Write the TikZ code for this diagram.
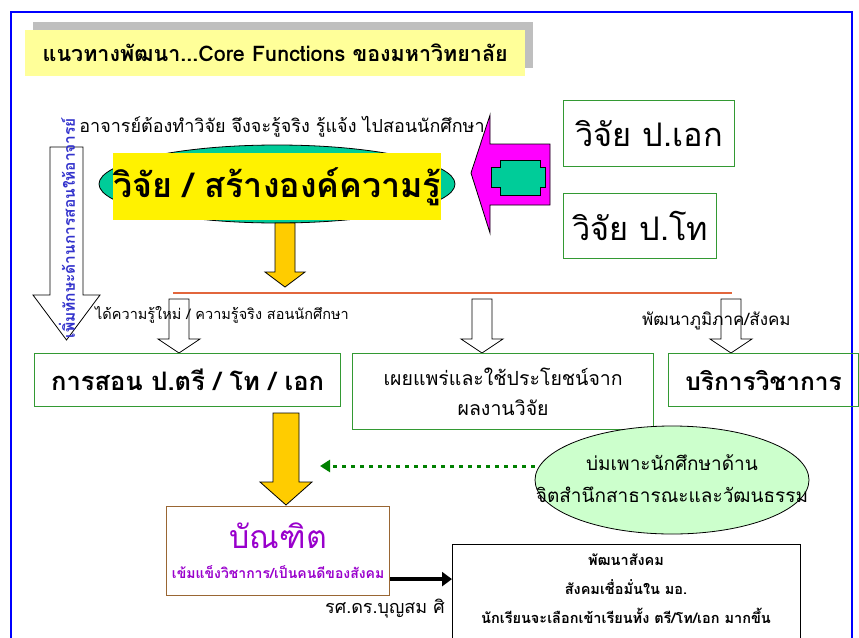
\documentclass[tikz,border=0pt]{standalone}
\usepackage{fontspec}
\setmainfont{Loma}[Script=Thai]
\usetikzlibrary{shapes.geometric,arrows.meta,shadows}

\definecolor{frameblue}{RGB}{0,0,255}
\definecolor{titleyellow}{RGB}{255,255,153}
\definecolor{tealfill}{RGB}{0,204,153}
\definecolor{boxgreen}{RGB}{51,153,51}
\definecolor{gold}{RGB}{255,204,0}
\definecolor{rulered}{RGB}{226,102,60}
\definecolor{mint}{RGB}{204,255,204}
\definecolor{gradbrown}{RGB}{153,102,51}
\definecolor{gradpurple}{RGB}{153,0,204}
\definecolor{noteblue}{RGB}{51,51,204}
\definecolor{dotgreen}{RGB}{0,128,0}
\definecolor{pinkfill}{RGB}{255,0,255}

\tikzstyle{greenbox} = [rectangle, draw=boxgreen, line width=1.2pt, anchor=north west, align=center, inner sep=0pt]
\tikzstyle{fatarrow} = [draw=black, line width=0.8pt, fill=white]
\tikzstyle{goldarrow} = [draw=black, line width=0.8pt, fill=gold]
\tikzstyle{note} = [inner sep=0pt]

\begin{document}
\begin{tikzpicture}[x=1pt, y=-1pt]
  \useasboundingbox (0,0) rectangle (859,637);
  \draw [frameblue, line width=2pt] (11,700) -- (11,12) -- (852,12) -- (852,700);

  % title
  \node (title) [anchor=north west, fill=titleyellow, minimum width=500pt, minimum height=46pt, inner sep=0pt,
    drop shadow={shadow xshift=8pt, shadow yshift=8pt, opacity=1, fill=black!25},
    font=\fontsize{21.5}{24}\selectfont\bfseries] at (25,30) {แนวทางพัฒนา...Core Functions ของมหาวิทยาลัย};

  % research core
  \node (teachnote) [note, font=\fontsize{18}{20}\selectfont] at (282,127) {อาจารย์ต้องทำวิจัย จึงจะรู้จริง รู้แจ้ง ไปสอนนักศึกษา};
  \node (core) [ellipse, draw=black, line width=0.8pt, fill=tealfill, minimum width=356pt, minimum height=78pt, inner sep=0pt] at (277,184) {};
  \node (coretext) [anchor=north west, fill=yellow, minimum width=327pt, minimum height=67pt, inner sep=0pt,
    font=\fontsize{34}{40}\selectfont\bfseries] at (113,153) {วิจัย / สร้างองค์ความรู้};

  \node (phd) [greenbox, minimum width=171pt, minimum height=66pt, font=\fontsize{32.5}{38}\selectfont] at (563,100) {วิจัย ป.เอก};
  \node (master) [greenbox, minimum width=153pt, minimum height=65pt, font=\fontsize{32.5}{38}\selectfont] at (563,193) {วิจัย ป.โท};

  \draw [line width=0.8pt, fill=pinkfill] (471,173) -- (490,115) -- (490,144) -- (550,144) -- (550,205) -- (490,205) -- (490,233) -- cycle;
  \draw [line width=0.8pt, fill=tealfill] (500,160) -- (540,160) -- (540,167) -- (545,167) -- (545,187) -- (540,187) -- (540,195)
    -- (500,195) -- (500,187) -- (491,187) -- (491,167) -- (500,167) -- cycle;

  \draw [goldarrow] (275,223) -- (275,272) -- (265,272) -- (285,287) -- (305,272) -- (295,272) -- (295,223) -- cycle;
  \draw [rulered, line width=1.5pt] (173,293) -- (732,293);

  % teaching skill arrow
  \draw [fatarrow] (50,147) -- (50,295) -- (33,295) -- (66.5,340) -- (100,295) -- (83,295) -- (83,147) -- cycle;
  \node (skillnote) [note, rotate=90, text=noteblue, font=\fontsize{15.5}{17}\selectfont\bfseries] at (67,228) {เพิ่มทักษะด้านการสอนให้อาจารย์};

  \foreach \x in {179,482,731} {
    \draw [fatarrow] (\x-10,299) -- (\x-10,339) -- (\x-21,339) -- (\x,353) -- (\x+21,339) -- (\x+10,339) -- (\x+10,299) -- cycle;
  }
  \node (knownote) [note, anchor=west, font=\fontsize{14.5}{17}\selectfont] at (95,315) {ได้ความรู้ใหม่ / ความรู้จริง สอนนักศึกษา};
  \node (regionnote) [note, anchor=west, font=\fontsize{17}{19}\selectfont] at (642,321) {พัฒนาภูมิภาค/สังคม};

  % core functions
  \node (teach) [greenbox, minimum width=306pt, minimum height=53pt, font=\fontsize{25.5}{30}\selectfont\bfseries] at (34,353) {การสอน ป.ตรี / โท / เอก};
  \node (dissem) [greenbox, minimum width=301pt, minimum height=76pt, font=\fontsize{19.5}{30}\selectfont] at (352,353) {เผยแพร่และใช้ประโยชน์จาก\\ผลงานวิจัย};
  \node (service) [greenbox, minimum width=190pt, minimum height=53pt, font=\fontsize{24.5}{28}\selectfont\bfseries] at (668,353) {บริการวิชาการ};

  \node (cult) [ellipse, draw=black, line width=0.8pt, fill=mint, minimum width=274pt, minimum height=108pt, inner sep=0pt] at (672,480) {};
  \node (culttext) [note, align=center, font=\fontsize{19}{32}\selectfont] at (672,479) {บ่มเพาะนักศึกษาด้าน\\จิตสำนึกสาธารณะและวัฒนธรรม};

  \draw [goldarrow] (273,413) -- (273,482) -- (260,482) -- (286,505) -- (312,482) -- (299,482) -- (299,413) -- cycle;
  \draw [dotgreen, line width=3pt, dash pattern=on 4pt off 5pt, -{Triangle[length=10pt, width=12pt]}] ([yshift=14pt]cult.west) -- (320,466);

  % graduates
  \node (grad) [rectangle, draw=gradbrown, line width=1.2pt, anchor=north west, minimum width=223pt, minimum height=89pt,
    inner sep=0pt, align=center, text=gradpurple] at (166,506)
    {{\fontsize{32}{36}\selectfont บัณฑิต}\\[16pt]{\fontsize{14}{16}\selectfont\bfseries เข้มแข็งวิชาการ/เป็นคนดีของสังคม}};

  \node (author) [note, anchor=west, font=\fontsize{18}{20}\selectfont] at (325,609) {รศ.ดร.บุญสม ศิ};
  \node (society) [rectangle, draw=black, line width=1pt, fill=white, anchor=north west, minimum width=348pt, minimum height=110pt] at (452,544) {};
  \node (societytext) [note, align=center, font=\fontsize{14.5}{29}\selectfont\bfseries] at (626,589)
    {พัฒนาสังคม\\สังคมเชื่อมั่นใน มอ.\\นักเรียนจะเลือกเข้าเรียนทั้ง ตรี/โท/เอก มากขึ้น};

  \draw [line width=4pt, -{Triangle[length=10pt, width=14pt]}] ([yshift=-28pt]grad.east) -- ([yshift=-28pt]grad.east -| society.west);
\end{tikzpicture}
\end{document}
